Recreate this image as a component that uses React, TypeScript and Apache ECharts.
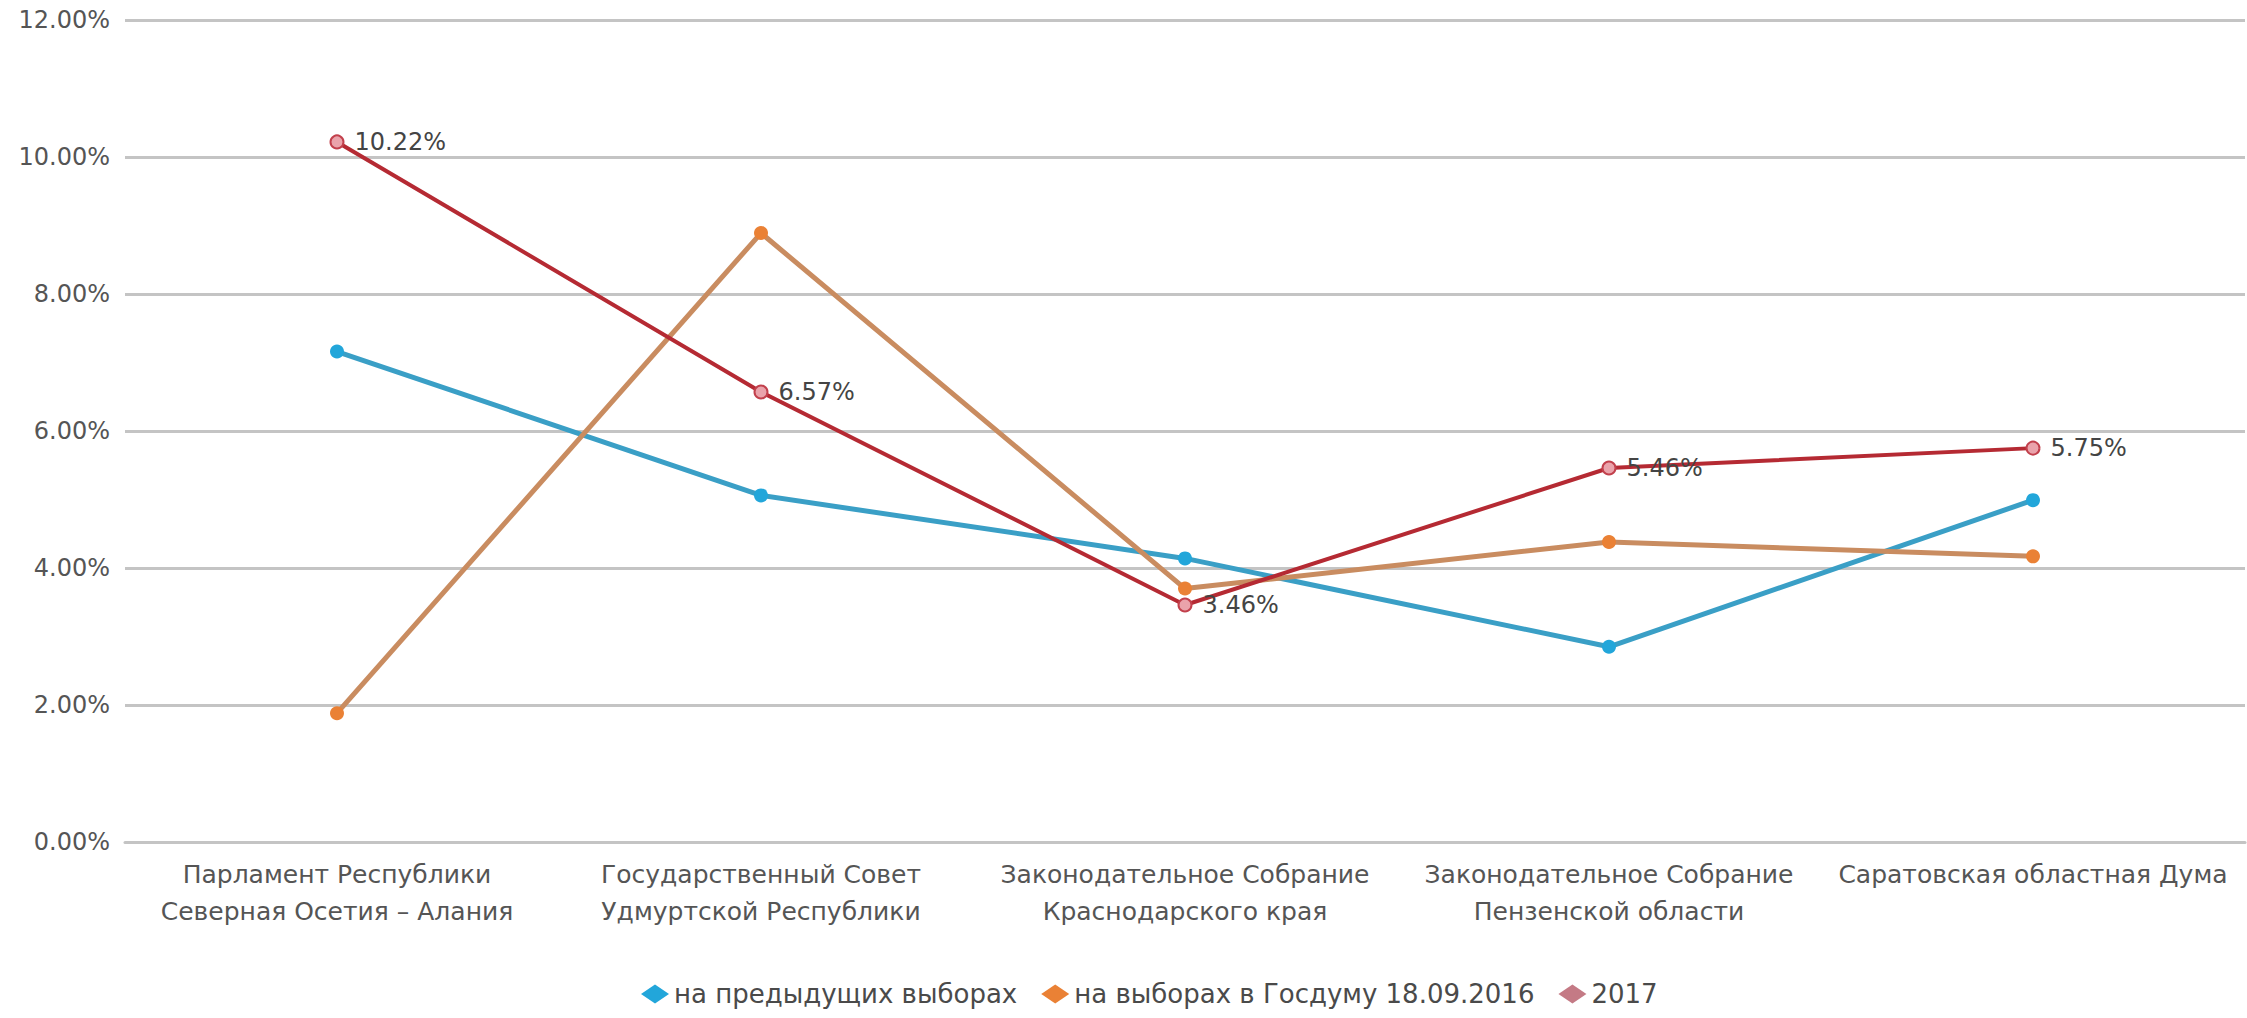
import React, { useEffect, useRef } from "react";
import * as echarts from "echarts";

const categories = [
  "Парламент Республики\nСеверная Осетия – Алания",
  "Государственный Совет\nУдмуртской Республики",
  "Законодательное Собрание\nКраснодарского края",
  "Законодательное Собрание\nПензенской области",
  "Саратовская областная Дума",
];
const seriesNames = ["на предыдущих выборах", "на выборах в Госдуму 18.09.2016", "2017"];
const previousElections = [7.16, 5.06, 4.14, 2.85, 4.99];
const dumaElections2016 = [1.88, 8.89, 3.7, 4.38, 4.17];
const year2017 = [10.22, 6.57, 3.46, 5.46, 5.75];
const yTicks = { min: 0, max: 12, interval: 2 };

const FONT = "DejaVu Sans";
const TEXT = "#555555";

export default function App() {
  const ref = useRef<HTMLDivElement>(null);
  useEffect(() => {
    if (!ref.current) return;
    const chart = echarts.init(ref.current, undefined, { renderer: "svg" });
    chart.setOption({
      animation: false,
      backgroundColor: "#ffffff",
      textStyle: { fontFamily: FONT },
      grid: { left: 125, right: 2, top: 20, bottom: 176, containLabel: false },
      legend: {
        bottom: 6,
        left: 636,
        itemWidth: 28,
        itemHeight: 19,
        itemGap: 24,
        textStyle: {
          fontFamily: FONT,
          fontSize: 26,
          color: "#4a4a4a",
        },
        data: [
          { name: seriesNames[0], icon: "diamond", itemStyle: { color: "#22a6da", borderWidth: 0 } },
          { name: seriesNames[1], icon: "diamond", itemStyle: { color: "#ea8135", borderWidth: 0 } },
          { name: seriesNames[2], icon: "diamond", itemStyle: { color: "#c47a85", borderWidth: 0 } },
        ],
      },
      xAxis: {
        type: "category",
        data: categories,
        boundaryGap: true,
        axisLine: { show: true, lineStyle: { color: "#c4c4c4", width: 3 } },
        axisTick: { show: false },
        axisLabel: {
          interval: 0,
          margin: 14,
          fontFamily: FONT,
          fontSize: 25,
          lineHeight: 37,
          color: TEXT,
          align: "center",
        },
      },
      yAxis: {
        type: "value",
        min: yTicks.min,
        max: yTicks.max,
        interval: yTicks.interval,
        axisLine: { show: false },
        axisTick: { show: false },
        splitLine: { lineStyle: { color: "#c4c4c4", width: 3 } },
        axisLabel: {
          margin: 15,
          fontFamily: FONT,
          fontSize: 24,
          color: TEXT,
          formatter: (v: number) => v.toFixed(2) + "%",
        },
      },
      series: [
        {
          name: seriesNames[0],
          type: "line",
          data: previousElections,
          symbol: "circle",
          symbolSize: 14,
          lineStyle: { color: "#3a9fc6", width: 5 },
          itemStyle: { color: "#22a6da" },
          z: 2,
        },
        {
          name: seriesNames[1],
          type: "line",
          data: dumaElections2016,
          symbol: "circle",
          symbolSize: 14,
          lineStyle: { color: "#c98c60", width: 5 },
          itemStyle: { color: "#ea8135" },
          z: 3,
        },
        {
          name: seriesNames[2],
          type: "line",
          data: year2017,
          symbol: "circle",
          symbolSize: 13,
          lineStyle: { color: "#b52a33", width: 4 },
          itemStyle: { color: "#eaa3ab", borderColor: "#c2404c", borderWidth: 2 },
          label: {
            show: true,
            position: "right",
            distance: 10,
            fontFamily: FONT,
            fontSize: 24,
            color: "#444444",
            formatter: (p: any) => Number(p.value).toFixed(2) + "%",
          },
          z: 4,
        },
      ],
    });
    return () => chart.dispose();
  }, []);
  return (
    <div
      ref={ref}
      style={{ position: "fixed", left: 0, top: 0, width: 2247, height: 1018, background: "#fff" }}
    />
  );
}
